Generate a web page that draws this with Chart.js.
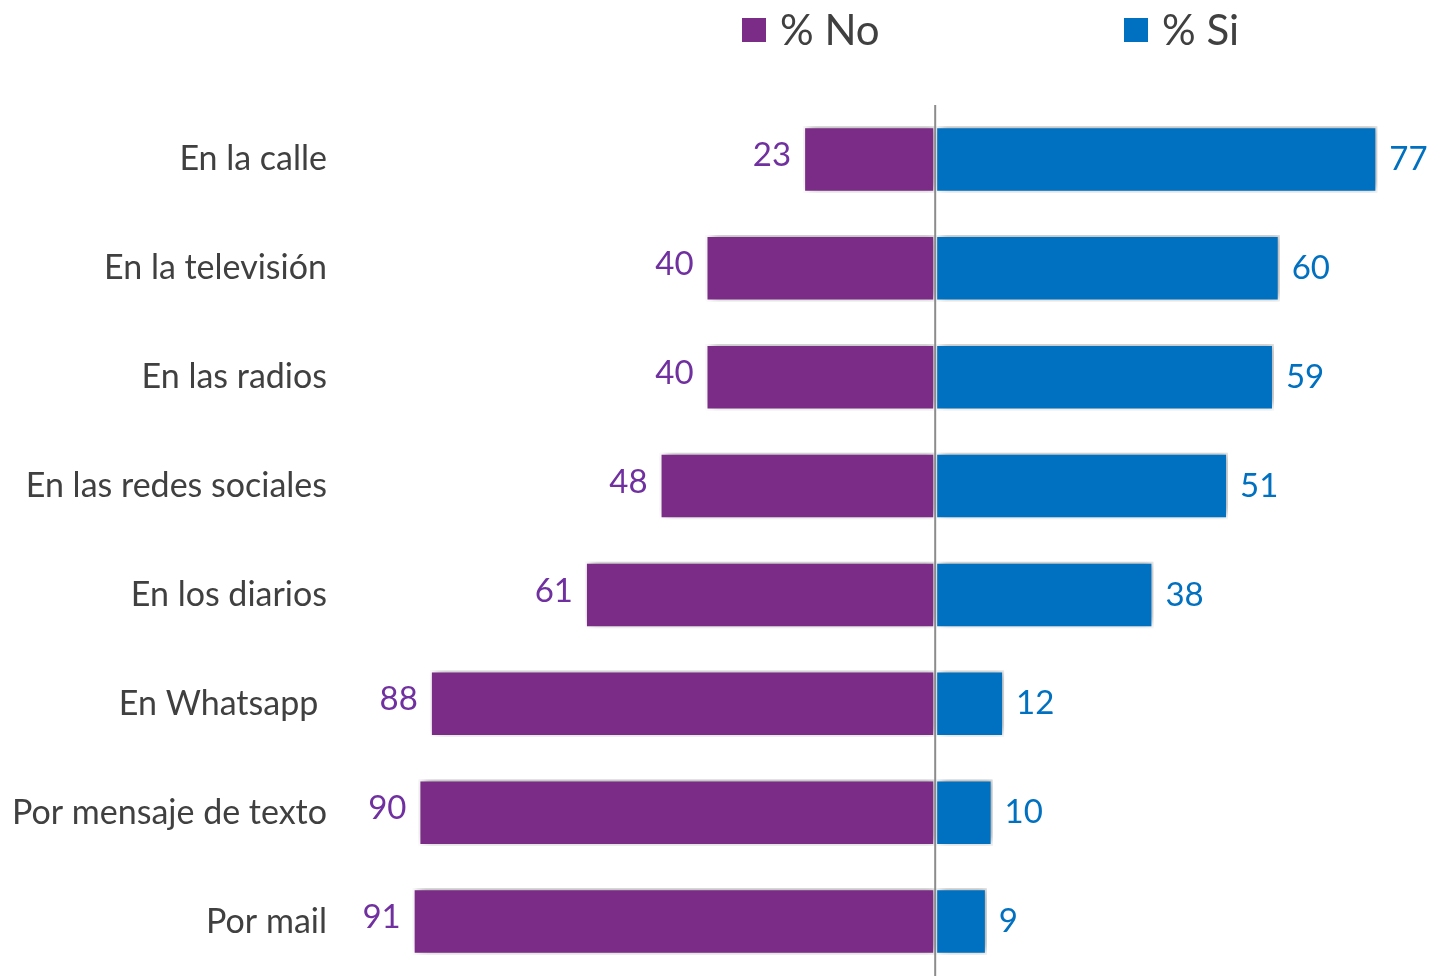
<!DOCTYPE html>
<html>
<head>
<meta charset="utf-8">
<script src="https://cdn.jsdelivr.net/npm/chart.js@4.4.1/dist/chart.umd.min.js"></script>
<style>
  html, body { margin: 0; padding: 0; background: #fff; }
  #wrap { width: 1429px; height: 976px; }
</style>
</head>
<body>
<div id="wrap"><canvas id="chart"></canvas></div>
<script>
const categories = ['En la calle', 'En la televisión', 'En las radios', 'En las redes sociales',
  'En los diarios', 'En Whatsapp ', 'Por mensaje de texto', 'Por mail'];
const noValues = [23, 40, 40, 48, 61, 88, 90, 91];
const siValues = [77, 60, 59, 51, 38, 12, 10, 9];
const seriesNames = ['% No', '% Si'];

const purple = '#7B2C87';
const blue = '#0070C0';

Chart.defaults.font.family = 'Lato';

// soft shadow behind the bars
const barShadow = {
  id: 'barShadow',
  beforeDatasetsDraw(chart) {
    const ctx = chart.ctx;
    ctx.save();
    ctx.shadowColor = 'rgba(0,0,0,0.35)';
    ctx.shadowBlur = 9;
    ctx.shadowOffsetX = 3;
    ctx.shadowOffsetY = -2;
  },
  afterDatasetsDraw(chart) {
    chart.ctx.restore();
  }
};

// zero line + value labels
const overlay = {
  id: 'overlay',
  afterDatasetsDraw(chart) {
    const ctx = chart.ctx;
    const area = chart.chartArea;
    const x0 = chart.scales.x.getPixelForValue(0);
    ctx.save();
    ctx.strokeStyle = '#8c8c8c';
    ctx.lineWidth = 2;
    ctx.beginPath();
    ctx.moveTo(x0, area.top);
    ctx.lineTo(x0, area.bottom);
    ctx.stroke();

    ctx.font = '33px Lato';
    ctx.textBaseline = 'middle';
    chart.getDatasetMeta(0).data.forEach((bar, i) => {
      ctx.fillStyle = '#7030A0';
      ctx.textAlign = 'right';
      ctx.fillText(noValues[i], bar.x - 12, bar.y - 4);
    });
    chart.getDatasetMeta(1).data.forEach((bar, i) => {
      ctx.fillStyle = blue;
      ctx.textAlign = 'left';
      ctx.fillText(siValues[i], bar.x + 12, bar.y);
    });
    ctx.restore();
  }
};

// legend at top
const topLegend = {
  id: 'topLegend',
  afterDraw(chart) {
    const ctx = chart.ctx;
    const items = [[742, purple], [1124, blue]];
    ctx.save();
    ctx.font = '42px Lato';
    ctx.textBaseline = 'middle';
    ctx.textAlign = 'left';
    items.forEach(([x, color], i) => {
      ctx.fillStyle = color;
      ctx.fillRect(x, 18, 24, 24);
      ctx.fillStyle = '#404040';
      ctx.fillText(seriesNames[i], x + 38, 31);
    });
    ctx.restore();
  }
};

new Chart(document.getElementById('chart'), {
  type: 'bar',
  data: {
    labels: categories,
    datasets: [
      {
        label: seriesNames[0],
        data: noValues.map(v => -v),
        backgroundColor: purple,
        borderColor: '#ffffff',
        borderWidth: 2,
        borderSkipped: false
      },
      {
        label: seriesNames[1],
        data: siValues,
        backgroundColor: blue,
        borderColor: '#ffffff',
        borderWidth: 2,
        borderSkipped: false
      }
    ]
  },
  options: {
    indexAxis: 'y',
    responsive: true,
    maintainAspectRatio: false,
    animation: false,
    layout: { padding: { top: 105, right: 0, bottom: 0, left: 0 } },
    datasets: { bar: { barPercentage: 0.61, categoryPercentage: 1 } },
    plugins: {
      legend: { display: false },
      tooltip: { enabled: false }
    },
    scales: {
      x: {
        stacked: true,
        display: false,
        min: -100,
        max: 86
      },
      y: {
        stacked: true,
        grid: { display: false, drawTicks: false },
        border: { display: false },
        afterFit(scale) {
          scale.width = 361;
          scale.paddingTop = 0;
          scale.paddingBottom = 0;
        },
        ticks: {
          color: '#404040',
          padding: 34,
          font: { size: 34 }
        }
      }
    }
  },
  plugins: [barShadow, overlay, topLegend]
});
</script>
</body>
</html>
